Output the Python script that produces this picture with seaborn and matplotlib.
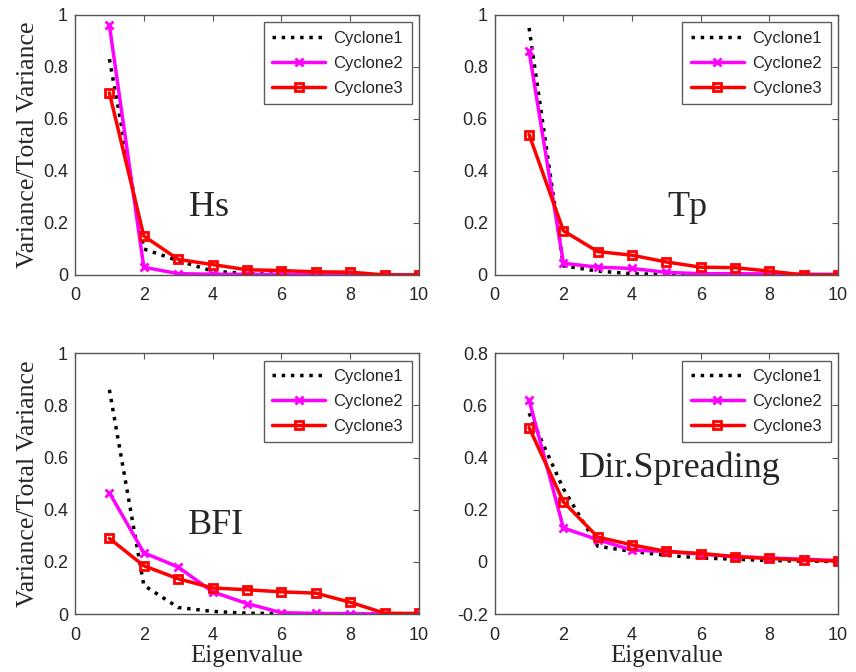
import numpy as np
import matplotlib
matplotlib.use("Agg")
import matplotlib.pyplot as plt
from matplotlib.ticker import FuncFormatter
import seaborn as sns

# Eigenvalue index
eig = [1, 2, 3, 4, 5, 6, 7, 8, 9, 10]

# Hs
hs_c1 = [0.83, 0.10, 0.055, 0.015, 0.005, 0.003, 0.002, 0.001, 0.0, 0.0]
hs_c2 = [0.96, 0.03, 0.005, 0.003, 0.002, 0.002, 0.001, 0.001, 0.0, 0.0]
hs_c3 = [0.70, 0.15, 0.06, 0.04, 0.02, 0.017, 0.012, 0.011, 0.0, 0.0]

# Tp
tp_c1 = [0.95, 0.035, 0.015, 0.005, 0.002, 0.001, 0.001, 0.0, 0.0, 0.0]
tp_c2 = [0.86, 0.045, 0.03, 0.025, 0.01, 0.005, 0.005, 0.004, 0.003, 0.002]
tp_c3 = [0.54, 0.17, 0.09, 0.076, 0.05, 0.03, 0.028, 0.015, 0.0, 0.0]

# BFI
bfi_c1 = [0.86, 0.11, 0.025, 0.01, 0.003, 0.002, 0.001, 0.0, 0.0, 0.0]
bfi_c2 = [0.465, 0.235, 0.18, 0.085, 0.04, 0.005, 0.002, 0.001, 0.0, 0.0]
bfi_c3 = [0.29, 0.185, 0.135, 0.10, 0.093, 0.085, 0.08, 0.045, 0.003, 0.002]

# Directional spreading
ds_c1 = [0.57, 0.28, 0.06, 0.04, 0.025, 0.015, 0.01, 0.005, 0.003, 0.001]
ds_c2 = [0.62, 0.13, 0.085, 0.045, 0.04, 0.03, 0.02, 0.015, 0.01, 0.005]
ds_c3 = [0.515, 0.23, 0.095, 0.065, 0.04, 0.032, 0.02, 0.013, 0.007, 0.003]

panels = [
    ("Hs", hs_c1, hs_c2, hs_c3, (0, 1), (3.9, 0.26)),
    ("Tp", tp_c1, tp_c2, tp_c3, (0, 1), (5.6, 0.26)),
    ("BFI", bfi_c1, bfi_c2, bfi_c3, (0, 1), (4.1, 0.34)),
    ("Dir.Spreading", ds_c1, ds_c2, ds_c3, (-0.2, 0.8), (5.4, 0.36)),
]

sns.set_style("white")
plt.rcParams['font.family'] = ['Liberation Sans', 'DejaVu Sans']

fig = plt.figure(figsize=(8.56, 6.72), dpi=100)
rects = [
    [0.0876, 0.5908, 0.402, 0.387],
    [0.578, 0.5908, 0.401, 0.387],
    [0.0876, 0.0863, 0.402, 0.388],
    [0.578, 0.0863, 0.401, 0.388],
]

serif = ['Liberation Serif', 'DejaVu Serif']

for i, (name, c1, c2, c3, ylim, txt) in enumerate(panels):
    ax = fig.add_axes(rects[i])
    sns.lineplot(x=eig, y=c1, ax=ax, color='black', linestyle=':', linewidth=2.5,
                 label='Cyclone1')
    sns.lineplot(x=eig, y=c2, ax=ax, color='magenta', linewidth=2.5, marker='x',
                 markersize=6, markeredgecolor='magenta', markeredgewidth=2,
                 label='Cyclone2')
    sns.lineplot(x=eig, y=c3, ax=ax, color='red', linewidth=2.5, marker='s',
                 markersize=6, markeredgecolor='red', markerfacecolor='none',
                 markeredgewidth=2, label='Cyclone3')

    ax.set_xlim(0, 10)
    ax.set_ylim(*ylim)
    ax.set_xticks([0, 2, 4, 6, 8, 10])
    ax.set_yticks(np.round(np.arange(ylim[0], ylim[1] + 0.01, 0.2), 1))
    ax.yaxis.set_major_formatter(FuncFormatter(lambda v, p: f"{v:g}"))
    ax.tick_params(direction='in', top=True, right=True, length=4,
                   labelsize=13, color='#555555')
    ax.tick_params(axis='x', pad=9)
    ax.tick_params(axis='y', pad=5)
    for sp in ax.spines.values():
        sp.set_color('#555555')
        sp.set_linewidth(1.0)

    ax.text(txt[0], txt[1], name, ha='center', va='center', fontsize=26,
            family=serif)

    if i % 2 == 0:
        ax.set_ylabel("Variance/Total Variance", fontsize=18.5, family=serif,
                      labelpad=3)
    else:
        ax.set_ylabel("")
    if i >= 2:
        ax.set_xlabel("Eigenvalue", fontsize=18, family=serif, labelpad=1)
    else:
        ax.set_xlabel("")

    leg = ax.legend(loc='upper right', fontsize=12, frameon=True, fancybox=False,
                    handlelength=3.2, borderaxespad=0.45, labelspacing=0.6,
                    borderpad=0.5, handletextpad=0.5)
    leg.get_frame().set_edgecolor('#333333')
    leg.get_frame().set_linewidth(1.0)

fig.savefig("out.png", dpi=100)
